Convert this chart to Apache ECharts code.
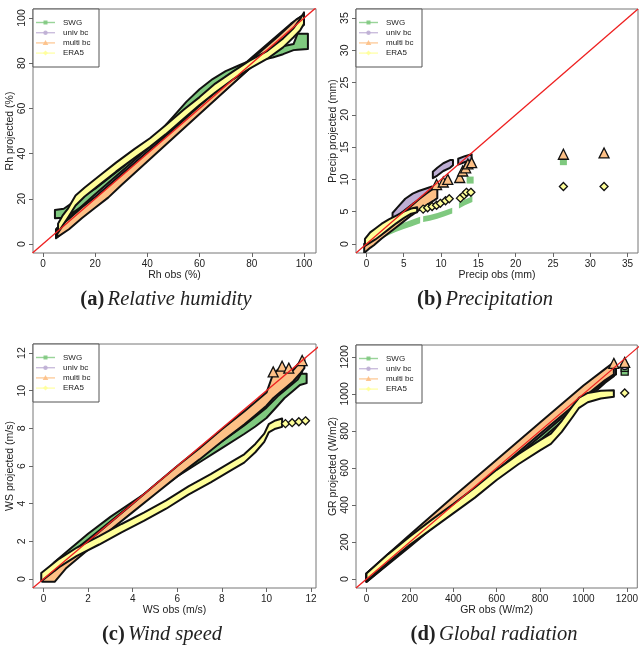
<!DOCTYPE html>
<html><head><meta charset="utf-8">
<script src="https://cdn.jsdelivr.net/npm/echarts/dist/echarts.min.js"></script>
<style>html,body{margin:0;padding:0;background:#fff}#c{width:641px;height:650px}</style>
</head><body><div id="c"></div>
<script>
// ---------- tick labels ----------
const ticksA = [0, 20, 40, 60, 80, 100];
const ticksB = [0, 5, 10, 15, 20, 25, 30, 35];
const ticksC = [0, 2, 4, 6, 8, 10, 12];
const ticksD = [0, 200, 400, 600, 800, 1000, 1200];
const seriesNames = ['SWG', 'univ bc', 'multi bc', 'ERA5'];

// ---------- (a) Relative humidity : [obs, projected low edge, projected high edge] ----------
const rhSWG = [[4.6,11.4,15],[8,11.6,15.6],[11,13.5,18],[15,16.5,21],[20,19,24.5],[25,23.5,29],[30,28.5,33.5],[35,33.5,38.5],[40,38.5,44],[45,43.5,50],[50,48.5,56.5],[55,53.5,63],[60,58.5,68.5],[65,63.5,73],[70,68.5,76.5],[75,74,79],[80,79,81.5],[84,81.5,83.5],[88,82.5,86],[92,84,87.5],[96,85.8,88.5],[97.5,86,93],[101.5,86.3,93]];
const rhUniv = [[5,2.5,6.5],[20,17.5,22],[40,37.5,42],[60,58,62],[80,78.5,82.5],[95,93.5,97.5],[100,97,101.5]];
const rhMulti = [[5.5,3,7],[10,6.5,11.2],[15,11.5,16.3],[20,16,20.8],[25,20.5,25.8],[30,26,30.8],[40,36.5,40.8],[50,47,50.8],[60,57.5,61.2],[70,68,71.3],[80,78.5,81.8],[90,88.5,91.8],[97,95.5,99.3],[100,97.5,101.5]];
const rhERA5 = [[5.8,5,9],[7.5,8,12.5],[9.5,11.5,15.5],[12.5,17,21.5],[16,21,25],[22,26.5,30.5],[28,32,36],[35,38,42],[41,43,46.8],[47,48.5,52.5],[54,55.5,59.5],[60,61.5,65],[66,67,71],[73,73,76.5],[79,77.5,81],[86,82,85.5],[92,87,91],[96,91.5,95.5],[98.5,94.5,99.5],[100,97.5,102.5]];

// ---------- (b) Precipitation ----------
const prSWG = [[0,-0.4,0.4],[1,0.2,1.2],[2,0.8,1.9],[3,1.4,2.5],[4,1.9,2.9],[5,2.3,3.3],[6,2.7,3.7],[7.2,3.2,4.2],null,[7.6,3.4,4.3],[8.5,3.6,4.5],[9.5,3.9,4.8],[10.5,4.3,5.2],[11.5,4.7,5.6],null,[12.4,5.5,6.4],[13.2,6.0,6.9],[14.2,6.5,7.4]];
const prSWGpts = [[13.9,9.9],[26.4,12.75]];
const prUniv = [[3.5,4,4.8],[4.1,4.3,5.6],[5.2,5.3,7],[6.2,6.2,7.8],[7,6.8,8.2],[8,7.5,8.6],[8.8,8.2,8.9],null,[8.9,10.2,11.2],[9.5,10.6,11.8],[10.3,11.3,12.5],[11.2,11.8,13.0],[11.6,12.2,13.0],null,[12.3,12.3,13.2],[13.2,12.7,13.6],[14.1,13,13.9]];
const prMulti = [[-0.3,-1.4,0.0],[0.5,-0.6,0.5],[1,-0.2,0.9],[2,0.8,1.9],[3,1.7,2.9],[4,2.6,4.0],[5,3.5,5.0],[6,4.4,5.9],[7,5.2,6.9],[8,6.0,7.8],[9,6.7,8.6],[9.5,7.1,9.0]];
const prMultiPts = [[9.4,9.2],[10.3,9.6],[10.9,10.0],[12.5,10.3],[12.9,11.3],[13.3,11.8],[13.6,12.4],[14.1,12.6],[26.4,13.9],[31.85,14.1]];
const prERA5 = [[-0.2,-0.3,0.8],[0.5,0.2,1.8],[1.2,0.7,2.4],[2,1.4,3.1],[3,2.3,3.8],[4,3.2,4.4],[5,4.0,5.0],[6,4.7,5.5],[6.8,4.9,5.7]];
const prERA5Pts = [[7.6,5.4],[8.2,5.6],[8.8,5.8],[9.4,6.0],[9.9,6.3],[10.6,6.7],[11.1,7.0],[12.6,7.1],[13.1,7.6],[13.4,8.0],[14.0,8.0],[26.4,8.9],[31.85,8.9]];

// ---------- (c) Wind speed ----------
const wsSWG = [[-0.05,-0.1,0.2],[0.5,0.4,0.9],[1,0.9,1.4],[2,1.9,2.4],[3,2.8,3.3],[4,3.7,4.1],[5,4.6,4.9],[6,5.45,5.85],[7,6.2,6.7],[8,6.95,7.5],[9,7.7,8.35],[9.5,8.1,8.85],[10,8.55,9.35],[10.5,9.2,9.9],[10.8,9.6,10.3],[11.2,10.0,10.6],[11.5,10.3,10.9],[11.8,10.4,10.9]];
const wsUniv = [[0,-0.1,0.3],[1,0.85,1.15],[2,1.8,2.1],[4,3.7,4.0],[6,5.6,5.95],[8,7.3,7.75],[9,8.15,8.6],[10,9.1,9.6],[10.5,9.7,10.3],[11,10.2,10.8],[11.4,10.6,11.4],[11.6,11.0,11.5]];
const wsMulti = [[-0.05,-0.15,0.25],[0.5,-0.15,0.45],[1,0.55,1.0],[2,1.55,2.0],[3,2.6,3.0],[4,3.55,4.0],[5,4.5,5.0],[6,5.45,6.0],[7,6.35,6.95],[8,7.3,7.95],[9,8.2,8.9],[9.5,8.7,9.4],[10,9.2,9.9],[10.3,9.6,10.9],[10.6,9.9,11.2],[10.9,10.2,11.1],[11.2,10.5,11.1],[11.5,10.9,11.5],[11.7,11.2,11.7]];
const wsMultiPts = [[10.3,11.0],[10.7,11.3],[11.0,11.2],[11.6,11.6]];
const wsERA5 = [[-0.1,-0.12,0.32],[0.7,0.63,1.07],[1.5,1.23,1.67],[2.5,1.83,2.27],[3.5,2.48,2.92],[4.5,3.08,3.52],[5.5,3.73,4.17],[6.5,4.48,4.92],[7.5,5.13,5.57],[8.5,5.83,6.27],[9.0,6.18,6.62],[9.5,6.73,7.17],[9.9,7.28,7.72],[10.1,7.78,8.22],[10.4,7.98,8.42],[10.7,8.08,8.52]];
const wsERA5Pts = [[10.85,8.25],[11.15,8.3],[11.45,8.35],[11.75,8.4]];

// ---------- (d) Global radiation ----------
const grSWG = [[0,-15,25],[200,175,220],[400,370,410],[600,560,605],[700,655,700],[800,750,795],[900,850,895],[1000,955,1000],[1100,1060,1105],[1140,1095,1135]];
const grSWGpts = [[1190,1120],[1190,1140]];
const grUniv = [[0,-10,30],[200,185,225],[400,380,420],[600,575,617],[800,770,813],[1000,970,1015],[1100,1070,1115],[1150,1105,1155]];
const grUnivPts = [[1190,1150]];
const grMulti = [[0,-15,30],[100,85,135],[200,185,240],[400,385,445],[600,585,645],[800,785,845],[1000,980,1045],[1100,1075,1135],[1140,1105,1170]];
const grMultiPts = [[1140,1165],[1190,1170]];
const grERA5 = [[0,-10,30],[100,90,135],[200,185,230],[300,270,320],[400,355,405],[500,440,495],[600,535,590],[700,620,675],[800,695,750],[850,730,785],[900,795,855],[950,875,935],[980,925,980],[1020,955,1005],[1080,975,1017],[1140,985,1020]];
const grERA5Pts = [[1190,1005]];

// ---------- layout / style ----------
const COL = ['#7FC97F', '#BEAED4', '#FDC086', '#FFFF99'];
const SYM = ['rect', 'circle', 'triangle', 'diamond'];
const panels = [
  {grid:{left:33, top:9, width:283, height:244}, x:[-3.8,104.6], y:[-4,104], ticks:ticksA, xname:'Rh obs (%)', yname:'Rh projected (%)',
   bands:[rhSWG, rhUniv, rhMulti, rhERA5], pts:[null,null,null,null], stroke:[1,1,1,1], cap:['(a)','Relative humidity'], capX:166},
  {grid:{left:356, top:9, width:282, height:244}, x:[-1.4,36.4], y:[-1.4,36.4], ticks:ticksB, xname:'Precip obs (mm)', yname:'Precip projected (mm)',
   bands:[prSWG, prUniv, prMulti, prERA5], pts:[prSWGpts,null,prMultiPts,prERA5Pts], stroke:[0,1,1,1], cap:['(b)','Precipitation'], capX:485},
  {grid:{left:33, top:344, width:283, height:244}, x:[-0.47,12.22], y:[-0.48,12.48], ticks:ticksC, xname:'WS obs (m/s)', yname:'WS projected (m/s)',
   bands:[wsSWG, wsUniv, wsMulti, wsERA5], pts:[null,null,wsMultiPts,wsERA5Pts], stroke:[1,1,1,1], cap:['(c)','Wind speed'], capX:162},
  {grid:{left:356, top:345, width:282, height:243}, x:[-48,1248], y:[-48,1264], ticks:ticksD, xname:'GR obs (W/m2)', yname:'GR projected (W/m2)',
   bands:[grSWG, grUniv, grMulti, grERA5], pts:[grSWGpts,grUnivPts,grMultiPts,grERA5Pts], stroke:[1,1,1,1], cap:['(d)','Global radiation'], capX:494}
];
const FONT = 'Liberation Sans, Arial, sans-serif';
const SERIF = 'Liberation Serif, Times New Roman, serif';

function bandSeries(gi, arr, color, stroke, z) {
  const rows = arr.filter(r => r);
  return {
    type: 'custom', xAxisIndex: gi, yAxisIndex: gi, clip: true, z: z, silent: true,
    data: rows, encode: {x: 0, y: [1, 2]},
    renderItem: function (params, api) {
      if (params.dataIndexInside !== 0) return null;
      const children = [];
      let seg = [];
      const flush = () => {
        if (seg.length > 1) {
          const up = seg.map(r => api.coord([r[0], r[2]]));
          const lo = seg.slice().reverse().map(r => api.coord([r[0], r[1]]));
          children.push({type: 'polygon', shape: {points: up.concat(lo)},
            style: {fill: color, stroke: stroke ? '#111' : null, lineWidth: stroke ? 2 : 0, lineJoin: 'round'}});
        }
        seg = [];
      };
      arr.forEach(r => { if (r === null) flush(); else seg.push(r); });
      flush();
      return {type: 'group', children: children};
    }
  };
}

const grids = [], xAxes = [], yAxes = [], series = [], graphics = [];
panels.forEach((p, i) => {
  grids.push(Object.assign({show: true, borderColor: '#777', borderWidth: 1, backgroundColor: 'transparent'}, p.grid));
  const axisCommon = {
    gridIndex: i, type: 'value', splitLine: {show: false}, axisLine: {show: false, onZero: false},
    axisTick: {show: true, length: 4, lineStyle: {color: '#666'}, customValues: p.ticks},
    nameLocation: 'middle', nameTextStyle: {fontFamily: FONT, fontSize: 10.5, color: '#222'}
  };
  const fmt = v => String(v);
  xAxes.push(Object.assign({}, axisCommon, {position: 'bottom', min: p.x[0], max: p.x[1], name: p.xname, nameGap: 16,
    axisLabel: {customValues: p.ticks, interval: 0, hideOverlap: false, formatter: fmt, fontFamily: FONT, fontSize: 10, color: '#222', margin: 6}}));
  yAxes.push(Object.assign({}, axisCommon, {position: 'left', min: p.y[0], max: p.y[1], name: p.yname, nameGap: 13,
    axisLabel: {customValues: p.ticks, interval: 0, hideOverlap: false, formatter: fmt, fontFamily: FONT, fontSize: 10.5, color: '#222', margin: 5, rotate: 90}}));
  p.bands.forEach((b, k) => {
    series.push(Object.assign(bandSeries(i, b, COL[k], p.stroke[k], 2 + k * 2), {name: seriesNames[k]}));
    if (p.pts[k]) {
      series.push({type: 'scatter', name: seriesNames[k], xAxisIndex: i, yAxisIndex: i, data: p.pts[k], z: 3 + k * 2,
        symbol: SYM[k], symbolSize: k === 2 ? 10 : (k === 3 ? 8 : 7), silent: true,
        itemStyle: {color: COL[k], borderColor: p.stroke[k] ? '#111' : COL[k], borderWidth: p.stroke[k] ? 1.3 : 0, opacity: 1}});
    }
  });
  const lo = Math.min(p.x[0], p.y[0]), hi = Math.max(p.x[1], p.y[1]);
  series.push({type: 'line', xAxisIndex: i, yAxisIndex: i, data: [[lo, lo], [hi, hi]], symbol: 'none', z: 20, silent: true,
    lineStyle: {color: '#ee2020', width: 1.3}, clip: true});
  // legend (R style)
  const L = p.grid.left, T = p.grid.top;
  graphics.push({type: 'rect', shape: {x: L, y: T, width: 66, height: 58}, style: {fill: '#fff', stroke: '#555', lineWidth: 1}, z: 50});
  seriesNames.forEach((nm, k) => {
    const yy = T + 13.5 + k * 10.2;
    graphics.push({type: 'line', shape: {x1: L + 3, y1: yy, x2: L + 22, y2: yy}, style: {stroke: COL[k], lineWidth: 1.4, opacity: 0.8}, z: 51});
    let sym;
    if (k === 0) sym = {type: 'rect', shape: {x: L + 10.5, y: yy - 2, width: 4, height: 4}};
    else if (k === 1) sym = {type: 'circle', shape: {cx: L + 12.5, cy: yy, r: 2.2}};
    else if (k === 2) sym = {type: 'polygon', shape: {points: [[L + 12.5, yy - 3], [L + 15.3, yy + 2], [L + 9.7, yy + 2]]}};
    else sym = {type: 'polygon', shape: {points: [[L + 12.5, yy - 2.5], [L + 15, yy], [L + 12.5, yy + 2.5], [L + 10, yy]]}};
    sym.style = {fill: COL[k], opacity: 0.9}; sym.z = 52;
    graphics.push(sym);
    graphics.push({type: 'text', x: L + 30, y: yy, style: {text: nm, fontFamily: FONT, fontSize: 8, fill: '#222', verticalAlign: 'middle'}, z: 52});
  });
  // caption
  graphics.push({type: 'text', x: p.capX, y: T + p.grid.height + 47, z: 52,
    style: {text: '{b|' + p.cap[0] + '} {i|' + p.cap[1] + '}', align: 'center', verticalAlign: 'middle',
      rich: {b: {fontFamily: SERIF, fontWeight: 'bold', fontSize: 20.5, fill: '#222'}, i: {fontFamily: SERIF, fontStyle: 'italic', fontSize: 20.5, fill: '#222'}}}});
});

const chart = echarts.init(document.getElementById('c'), null, {renderer: 'canvas'});
chart.setOption({animation: false, backgroundColor: '#fff', grid: grids, xAxis: xAxes, yAxis: yAxes, series: series, graphic: graphics});
</script>
</body></html>
